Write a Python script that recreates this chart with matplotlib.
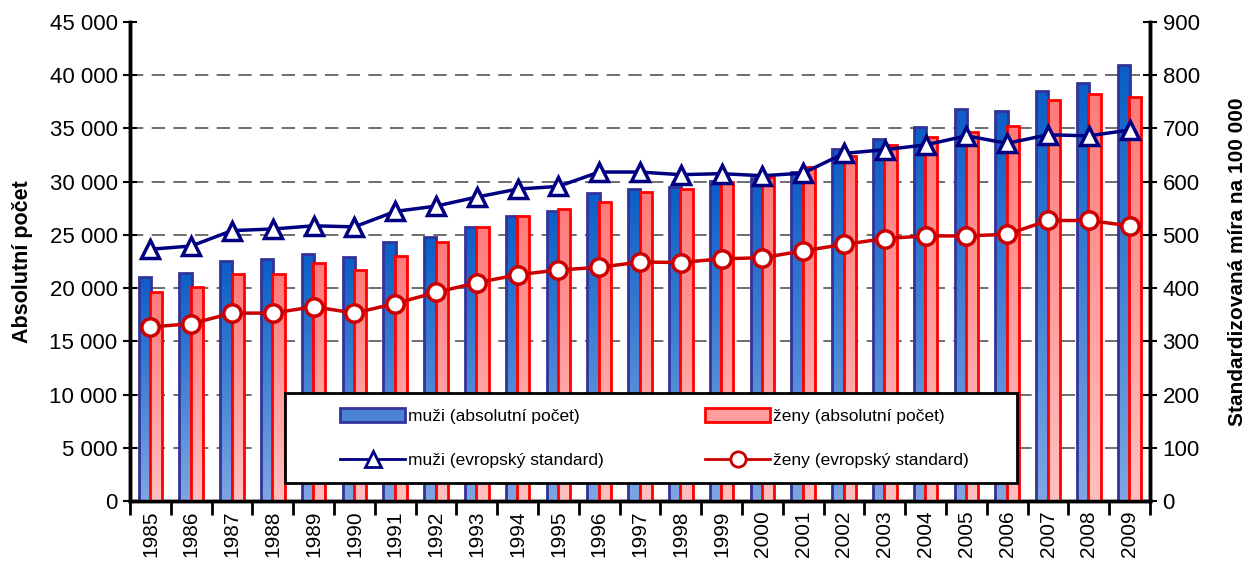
import matplotlib
matplotlib.use("Agg")
import matplotlib.pyplot as plt
import numpy as np
from matplotlib.patches import Rectangle, Patch
from matplotlib.lines import Line2D
from matplotlib.colors import LinearSegmentedColormap

plt.rcParams['font.family'] = ['Liberation Sans', 'DejaVu Sans']

years = [str(y) for y in range(1985, 2010)]
muzi_abs = [21070, 21450, 22550, 22700, 23170, 22950, 24330, 24830, 25740, 26780,
            27280, 28900, 29340, 29470, 30100, 30300, 30880, 33070, 33980, 35170,
            36830, 36640, 38520, 39300, 40930]
zeny_abs = [19660, 20070, 21360, 21360, 22330, 21730, 22990, 24360, 25770, 26800,
            27430, 28120, 29000, 29280, 29970, 30440, 31350, 32440, 33450, 34230,
            34640, 35230, 37670, 38270, 37930]
muzi_std = [473, 479, 508, 511, 517, 515, 544, 554, 571, 586,
            591, 618, 618, 613, 615, 611, 616, 653, 660, 669,
            686, 672, 688, 686, 697]
zeny_std = [327, 333, 353, 353, 365, 353, 371, 392, 410, 425,
            434, 439, 449, 448, 455, 457, 470, 482, 493, 498,
            498, 501, 527, 527, 517]

lbl_m_abs = 'muži (absolutní počet)'
lbl_z_abs = 'ženy (absolutní počet)'
lbl_m_std = 'muži (evropský standard)'
lbl_z_std = 'ženy (evropský standard)'

fig = plt.figure(figsize=(12.5, 5.62), dpi=100)
ax = fig.add_axes([0.104, 0.1085, 0.816, 0.8525])
ax2 = ax.twinx()

x = np.arange(len(years))
bw = 0.3
off = 0.14

blue_cmap = LinearSegmentedColormap.from_list('b', ['#7ea6e2', '#0a5ec6'])
red_cmap = LinearSegmentedColormap.from_list('r', ['#ffc0c0', '#ff7a7a'])
grad = np.linspace(0, 1, 256).reshape(-1, 1)

def gradient_bars(xs, vals, cmap, edge, z):
    bars = ax.bar(xs, vals, width=bw, facecolor='none', edgecolor=edge, linewidth=2, zorder=z + 1)
    for b in bars:
        x0, y0 = b.get_x(), b.get_y()
        w, h = b.get_width(), b.get_height()
        im = ax.imshow(grad, extent=[x0, x0 + w, y0, y0 + h], origin='lower', cmap=cmap,
                       aspect='auto', zorder=z, interpolation='bilinear')
        im.set_clip_path(b)
    return bars

gradient_bars(x - off, muzi_abs, blue_cmap, '#333399', 3)
gradient_bars(x + off, zeny_abs, red_cmap, '#ff0000', 5)

ax.set_xlim(-0.5, len(years) - 0.5)
ax.set_ylim(0, 45000)
ax.set_yticks(np.arange(0, 45001, 5000))
ax.set_yticklabels([f'{v:,}'.replace(',', ' ') for v in range(0, 45001, 5000)])
for v in range(5000, 45000, 5000):
    ax.axhline(v, color='#555555', lw=1.2, ls=(0, (8, 5)), zorder=1)

ax.set_xticks(x)
ax.set_xticklabels(years, rotation=90)
ax.set_xticks(np.arange(-0.5, len(years), 1), minor=True)
ax.tick_params(axis='x', which='major', length=0, pad=7, labelsize=15)
ax.tick_params(axis='x', which='minor', length=10, width=2, direction='out')
ax.tick_params(axis='y', length=10, width=1.5, direction='inout', labelsize=16, pad=4)

ax2.plot(x, muzi_std, color='#000080', lw=2.5, marker='^', ms=13, mfc='white',
         mec='#000080', mew=2.5, zorder=10)
ax2.plot(x, zeny_std, color='#cc0000', lw=2.5, marker='o', ms=12.5, mfc='white',
         mec='#cc0000', mew=2.5, zorder=10)
ax2.set_ylim(0, 900)
ax2.set_yticks(np.arange(0, 901, 100))
ax2.tick_params(axis='y', length=10, width=1.5, direction='inout', labelsize=16, pad=4)

for a in (ax, ax2):
    a.spines['top'].set_visible(False)
    for s in ('left', 'right', 'bottom'):
        a.spines[s].set_linewidth(2.5)

ax.set_ylabel('Absolutní počet', fontsize=15.5, fontweight='bold', labelpad=12)
ax2.set_ylabel('Standardizovaná míra na 100 000', fontsize=15, fontweight='bold',
               rotation=90, labelpad=20)

# legend frame
frame = Rectangle((0.152, 0.0376), 0.718, 0.188, transform=ax2.transAxes,
                  facecolor='white', edgecolor='black', linewidth=2, zorder=19)
ax2.add_patch(frame)

handles = [
    Patch(facecolor='#4a82d6', edgecolor='#333399', linewidth=2),
    Line2D([], [], color='#000080', lw=2, marker='^', ms=11, mfc='white', mec='#000080', mew=2),
    Patch(facecolor='#ff9c9c', edgecolor='#ff0000', linewidth=2),
    Line2D([], [], color='#cc0000', lw=2, marker='o', ms=11, mfc='white', mec='#cc0000', mew=2),
]
labels = [lbl_m_abs, lbl_m_std, lbl_z_abs, lbl_z_std]
leg = ax2.legend(handles, labels, ncol=2, loc='center left',
                 bbox_to_anchor=(0.2059, 0.1315), fontsize=12.5,
                 frameon=False, handlelength=3.75, handleheight=0.85, labelspacing=1.65,
                 handletextpad=0.17, columnspacing=5.85, borderpad=0, borderaxespad=0)
leg.set_zorder(20)

fig.savefig('out.png', dpi=100)
